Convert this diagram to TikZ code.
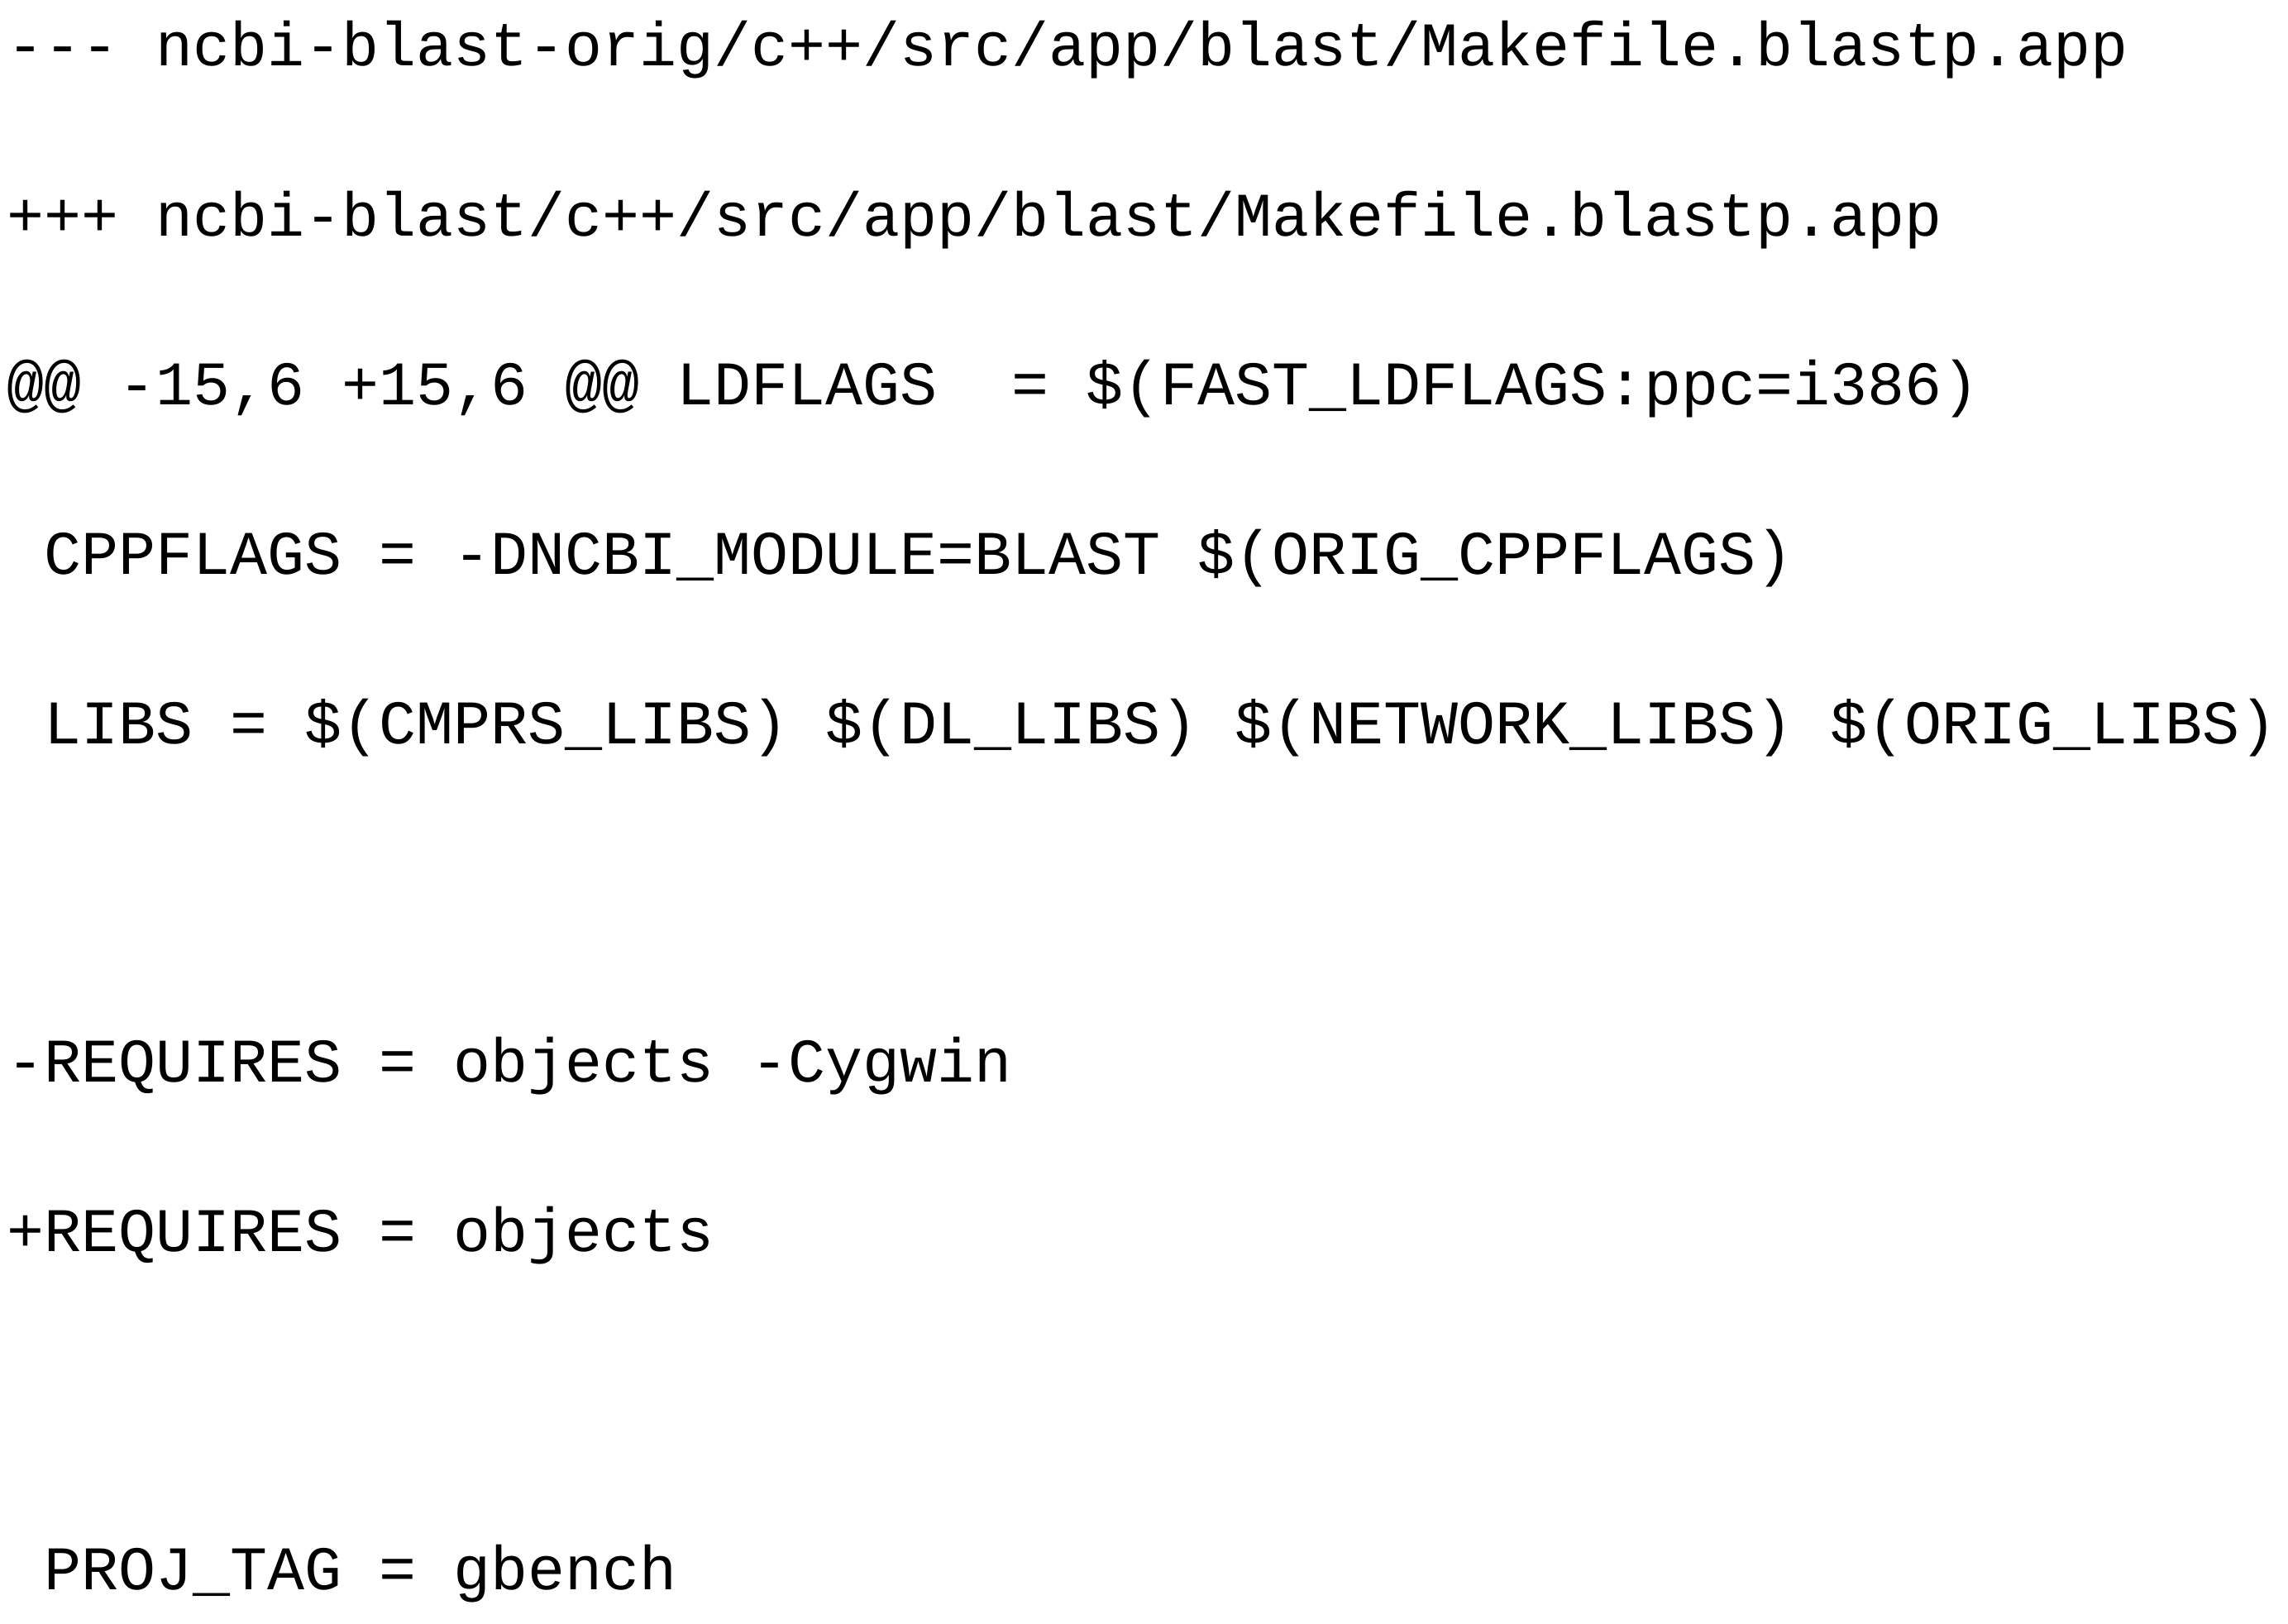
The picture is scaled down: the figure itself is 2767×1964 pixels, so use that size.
\documentclass[tikz,border=0pt]{standalone}
\usepackage{fontspec}
\setmainfont[Ligatures=ResetAll]{Liberation Mono}
\begin{document}
\begin{tikzpicture}[x=1pt,y=-1pt,
  codeline/.style={anchor=base west,inner sep=0pt,font=\fontsize{75}{90}\selectfont}]
\useasboundingbox[fill=white] (0,0) rectangle (2767,1964);
\node[codeline] (l1) at (8,80) {-{}-{}- ncbi-blast-orig/c++/src/app/blast/Makefile.blastp.app};
\node[codeline] (l2) at (8,285) {+++ ncbi-blast/c++/src/app/blast/Makefile.blastp.app};
\node[codeline] (l3) at (8,489) {@@ -15,6 +15,6 @@ LDFLAGS\hspace{45pt} = \$(FAST\_LDFLAGS:ppc=i386)};
\node[codeline] (l4) at (53,694) {CPPFLAGS = -DNCBI\_MODULE=BLAST \$(ORIG\_CPPFLAGS)};
\node[codeline] (l5) at (53,899) {LIBS = \$(CMPRS\_LIBS) \$(DL\_LIBS) \$(NETWORK\_LIBS) \$(ORIG\_LIBS)};
\node[codeline] (l6) at (8,1308) {-REQUIRES = objects -Cygwin};
\node[codeline] (l7) at (8,1513) {+REQUIRES = objects};
\node[codeline] (l8) at (53,1922) {PROJ\_TAG = gbench};
\end{tikzpicture}
\end{document}
